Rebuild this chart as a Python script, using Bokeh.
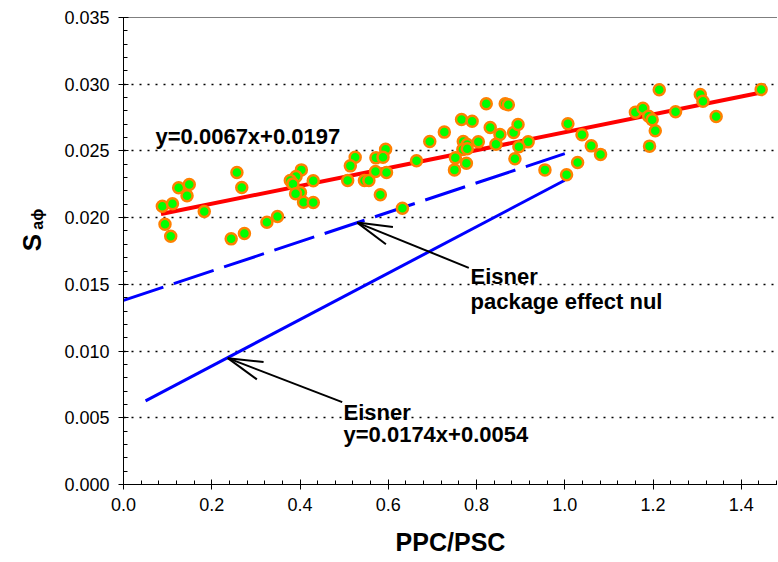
import numpy as np
from bokeh.plotting import figure
from bokeh.layouts import row
from bokeh.models import Label, Span, SingleIntervalTicker, NumeralTickFormatter
from bokeh.core.properties import value
from bokeh.embed import file_html
from bokeh.resources import INLINE

# ---- data ----
ppc_psc = [0.088, 0.111, 0.125, 0.149, 0.144, 0.183, 0.094, 0.107, 0.257, 0.268,
           0.244, 0.274, 0.325, 0.349, 0.403, 0.391, 0.378, 0.384, 0.430, 0.401,
           0.390, 0.408, 0.430, 0.525, 0.514, 0.508, 0.572, 0.594, 0.588, 0.571,
           0.596, 0.546, 0.556, 0.582, 0.632, 0.664, 0.694, 0.727, 0.822, 0.865,
           0.872, 0.766, 0.790, 0.831, 0.853, 0.884, 0.894, 0.804, 0.844, 0.770,
           0.779, 0.769, 0.779, 0.752, 0.777, 0.750, 0.917, 0.896, 0.887, 0.955,
           1.007, 1.039, 1.060, 1.029, 1.004, 1.081, 1.214, 1.160, 1.177, 1.190,
           1.198, 1.205, 1.192, 1.251, 1.307, 1.313, 1.343, 1.445]
s_aphi = [0.02086, 0.02104, 0.02224, 0.02248, 0.02164, 0.02046, 0.01951, 0.01861, 0.02338, 0.02226,
          0.01841, 0.01881, 0.01966, 0.02009, 0.02358, 0.02308, 0.02278, 0.02253, 0.02276, 0.02188,
          0.02179, 0.02116, 0.02113, 0.02453, 0.02388, 0.02278, 0.02448, 0.02513, 0.02453, 0.02346,
          0.02338, 0.02278, 0.02278, 0.02171, 0.02071, 0.02426, 0.02571, 0.02641, 0.02853, 0.02853,
          0.02846, 0.02736, 0.02723, 0.02676, 0.02623, 0.02638, 0.02698, 0.02568, 0.02550, 0.02571,
          0.02548, 0.02511, 0.02516, 0.02448, 0.02408, 0.02358, 0.02568, 0.02531, 0.02441, 0.02358,
          0.02703, 0.02621, 0.02538, 0.02413, 0.02321, 0.02473, 0.02958, 0.02790, 0.02820, 0.02760,
          0.02733, 0.02651, 0.02536, 0.02793, 0.02923, 0.02873, 0.02758, 0.02960]

# regression line y = 0.0067x + 0.0197
fit_slope, fit_icpt = 0.0067, 0.0197
fit_x = [0.085, 1.445]
# Eisner y = 0.0174x + 0.0054
eis_slope, eis_icpt = 0.0174, 0.0054
eis_x = [0.05, 1.0]
# Eisner, package effect nul
nul_slope, nul_icpt = 0.011, 0.0138
nul_x = [0.0, 1.0]

y_ticks_step = 0.005
x_ticks_step = 0.2

# annotation anchors (data units)
arrow_tail = [(0.7825, 0.01624), (0.4956, 0.00617)]
arrow_tip = [(0.5296, 0.01963), (0.2363, 0.00947)]

FONT = "Liberation Sans"
TOTAL_W, H = 777, 560
LW = 50                      # side strip holding the y-axis title
W = TOTAL_W - LW
BL, BR, BT, BB = 123 - LW, 0, 17, 76
X0, Y0, Y1 = 0.0, 0.0, 0.035
X1 = (W - BL - BR) / 441.3   # keep 0.2 units = 88.3 px

p = figure(width=W, height=H, x_range=(X0, X1), y_range=(Y0, Y1),
           output_backend="svg", toolbar_location=None,
           min_border_left=BL, min_border_right=BR, min_border_top=BT, min_border_bottom=BB)
p.background_fill_color = "white"
p.border_fill_color = "white"
p.outline_line_color = None
p.add_layout(Span(location=Y1, dimension="width", line_color="black", line_width=1))

for ax in (p.xaxis[0], p.yaxis[0]):
    ax.axis_line_color = "black"
    ax.major_tick_line_color = "black"
    ax.minor_tick_line_color = "black"
    ax.major_tick_in = 5
    ax.major_tick_out = 5
    ax.minor_tick_in = 4
    ax.minor_tick_out = 0
    ax.major_label_text_font = FONT
    ax.major_label_text_font_size = "18px"
    ax.major_label_text_color = "black"

p.xaxis.ticker = SingleIntervalTicker(interval=x_ticks_step, num_minor_ticks=5)
p.yaxis.ticker = SingleIntervalTicker(interval=y_ticks_step, num_minor_ticks=5)
p.xaxis.formatter = NumeralTickFormatter(format="0.0")
p.yaxis.formatter = NumeralTickFormatter(format="0.000")
p.xaxis.major_label_standoff = 8
p.yaxis.major_label_standoff = 9
p.xaxis.axis_label = "PPC/PSC"
p.xaxis.axis_label_text_font = FONT
p.xaxis.axis_label_text_font_size = "25px"
p.xaxis.axis_label_text_font_style = "bold"
p.xaxis.axis_label_text_color = "black"
p.xaxis.axis_label_standoff = 14

p.xgrid.grid_line_color = None
p.ygrid.grid_line_color = "black"
p.ygrid.grid_line_dash = "2 6"
p.ygrid.grid_line_width = 1.5

# lines
fx = np.array(fit_x)
p.line(fx, fit_slope * fx + fit_icpt, line_color="#ff0000", line_width=4)
ex = np.array(eis_x)
p.line(ex, eis_slope * ex + eis_icpt, line_color="#0000ff", line_width=3)
nx = np.array(nul_x)
p.line(nx, nul_slope * nx + nul_icpt, line_color="#0000ff", line_width=3, line_dash="42 11")

# points
p.scatter(ppc_psc, s_aphi, size=11, fill_color="#00ff00", line_color="#ff8000", line_width=2.5)

# arrows
sx = (W - BL - BR) / (X1 - X0)
sy = (H - BT - BB) / (Y1 - Y0)
head_len, half = 36.0, np.radians(15)
x0s, y0s, x1s, y1s = [], [], [], []
for (tx, ty), (kx, ky) in zip(arrow_tip, arrow_tail):
    x0s.append(kx); y0s.append(ky); x1s.append(tx); y1s.append(ty)
    ang = np.arctan2((ky - ty) * sy, (kx - tx) * sx)
    for s in (1, -1):
        a = ang + s * half
        x0s.append(tx); y0s.append(ty)
        x1s.append(tx + head_len * np.cos(a) / sx)
        y1s.append(ty + head_len * np.sin(a) / sy)
p.segment(x0s, y0s, x1s, y1s, line_color="black", line_width=2)

def lab(x, y, t, size="22px"):
    p.add_layout(Label(x=x, y=y, text=t, text_font=FONT, text_font_size=size,
                       text_font_style="bold", text_color="black",
                       text_baseline="alphabetic"))

lab(0.0725, 0.02608, "y=0.0067x+0.0197")
lab(0.7863, 0.01559, "Eisner")
lab(0.7863, 0.01372, "package effect nul")
lab(0.4985, 0.00540, "Eisner")
lab(0.4985, 0.00375, "y=0.0174x+0.0054")

# side strip with the y-axis title S_a(phi)
side = figure(width=LW, height=H, x_range=(0, LW), y_range=(0, H), title=None,
              output_backend="svg", toolbar_location=None,
              x_axis_location=None, y_axis_location=None, min_border=0)
side.outline_line_color = None
side.grid.visible = False
side.text(x=[31], y=[H - 270], text=["S"], angle=np.pi / 2,
          text_font=value(FONT), text_font_size="26px", text_font_style="bold",
          text_align="center", text_baseline="alphabetic", text_color="black")
side.text(x=[37], y=[H - 242], text=["a\u03d5"], angle=np.pi / 2,
          text_font=value(FONT), text_font_size="16px", text_font_style="bold",
          text_align="center", text_baseline="alphabetic", text_color="black")

layout = row(side, p, spacing=0)
open("out.html", "w").write(file_html(layout, INLINE))
